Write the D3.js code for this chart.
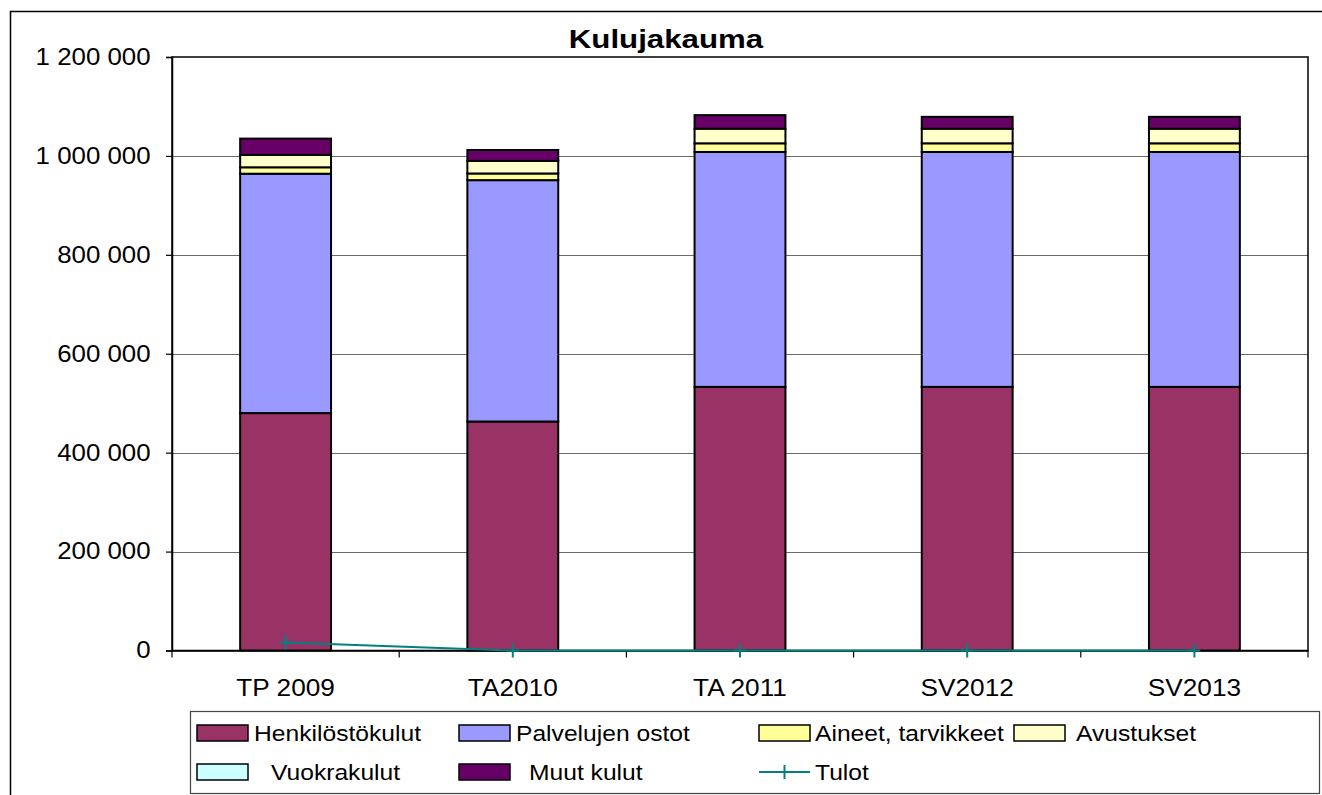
<!DOCTYPE html>
<html>
<head>
<meta charset="utf-8">
<script src="https://cdn.jsdelivr.net/npm/d3@7"></script>
<style>
  html, body { margin: 0; padding: 0; background: #fff; }
  svg { display: block; font-family: "Liberation Sans", Arial, sans-serif; }
</style>
</head>
<body>
<svg id="chart" width="1322" height="795"></svg>
<script>
// ---- data ----
const categories = ["TP 2009", "TA2010", "TA 2011", "SV2012", "SV2013"];
const henkilostokulut = [480000, 463000, 533000, 533000, 533000];
const palvelujenOstot = [484000, 488000, 475000, 475000, 475000];
const aineetTarvikkeet = [13000, 13500, 17500, 17500, 17500];
const avustukset = [25000, 25500, 29500, 29500, 29500];
const vuokrakulut = [0, 0, 0, 0, 0];
const muutKulut = [33000, 22000, 27500, 24000, 24000];
const tulot = [16000, 0, 0, 0, 0];
const yTicks = [0, 200000, 400000, 600000, 800000, 1000000, 1200000];
const seriesNames = ["Henkilöstökulut", "Palvelujen ostot", "Aineet, tarvikkeet", "Avustukset", "Vuokrakulut", "Muut kulut"];
const seriesValues = [henkilostokulut, palvelujenOstot, aineetTarvikkeet, avustukset, vuokrakulut, muutKulut];
const lineName = "Tulot";
const titleText = "Kulujakauma";

// ---- styles ----
const colors = ["#993366", "#9999FF", "#FFFF99", "#FFFFCC", "#CCFFFF", "#660066"];
const lineColor = "#008080";

const svg = d3.select("#chart");
const plotLeft = 172, plotRight = 1308, plotTop = 57, plotBottom = 650.5;

// table for stack
const table = categories.map((c, i) => {
  const row = { cat: c };
  seriesNames.forEach((s, j) => row[s] = seriesValues[j][i]);
  return row;
});
const stacked = d3.stack().keys(seriesNames)(table);

const x = d3.scaleBand().domain(categories).range([plotLeft, plotRight]).paddingInner(0.6).paddingOuter(0.3);
const y = d3.scaleLinear().domain([0, 1200000]).range([plotBottom, plotTop]);

// outer chart border
svg.append("rect").attr("x", 10.5).attr("y", 11.5).attr("width", 1400).attr("height", 900)
  .attr("fill", "none").attr("stroke", "#000").attr("stroke-width", 1.5);

// gridlines
svg.append("g").selectAll("line").data(yTicks.filter(t => t > 0 && t < 1200000)).join("line")
  .attr("x1", plotLeft).attr("x2", plotRight)
  .attr("y1", d => Math.round(y(d)) + 0.5).attr("y2", d => Math.round(y(d)) + 0.5)
  .attr("stroke", "#6b6b6b").attr("stroke-width", 1);

// plot area frame
svg.append("rect").attr("x", plotLeft).attr("y", plotTop).attr("width", plotRight - plotLeft).attr("height", plotBottom - plotTop)
  .attr("fill", "none").attr("stroke", "#000").attr("stroke-width", 1.5);

// bars
const gBars = svg.append("g");
stacked.forEach((layer, j) => {
  gBars.append("g").selectAll("rect").data(layer).join("rect")
    .attr("x", d => x(d.data.cat))
    .attr("width", x.bandwidth())
    .attr("y", d => y(d[1]))
    .attr("height", d => y(d[0]) - y(d[1]))
    .attr("fill", colors[j])
    .attr("stroke", "#000").attr("stroke-width", 2);
});

// y axis
const fmt = d3.formatLocale({ decimal: ",", thousands: "\u00a0", grouping: [3], currency: ["", "€"] }).format(",d");
const yAxis = svg.append("g").attr("transform", `translate(${plotLeft},0)`)
  .call(d3.axisLeft(y).tickValues(yTicks).tickFormat(d => fmt(d).replace(/\u00a0/g, " ")).tickSize(6).tickPadding(13));
yAxis.select(".domain").attr("stroke", "#000").attr("stroke-width", 1.5);
yAxis.selectAll(".tick line").attr("stroke", "#000").attr("stroke-width", 1.2);
yAxis.selectAll(".tick text")
  .attr("font-size", 23).attr("fill", "#000")
  .attr("font-family", "'Liberation Sans', Arial, sans-serif")
  .attr("transform", "scale(1.125,1)");

// x axis (labels)
const xAxis = svg.append("g").attr("transform", `translate(0,${plotBottom})`)
  .call(d3.axisBottom(x).tickSize(0).tickPadding(29));
xAxis.select(".domain").attr("stroke", "#000").attr("stroke-width", 1.5);
xAxis.selectAll(".tick text")
  .attr("font-size", 23).attr("fill", "#000")
  .attr("font-family", "'Liberation Sans', Arial, sans-serif")
  .attr("transform", "scale(1.14,1)");
// x tick marks at category boundaries
svg.append("g").selectAll("line").data(d3.range(categories.length + 1)).join("line")
  .attr("x1", i => plotLeft + i * x.step()).attr("x2", i => plotLeft + i * x.step())
  .attr("y1", plotBottom).attr("y2", plotBottom + 7)
  .attr("stroke", "#000").attr("stroke-width", 1.2);

// Tulot line
const cxOf = i => x(categories[i]) + x.bandwidth() / 2;
const lineGen = d3.line().x((d, i) => cxOf(i)).y(d => y(d));
svg.append("path").datum(tulot).attr("d", lineGen)
  .attr("fill", "none").attr("stroke", lineColor).attr("stroke-width", 2);
const markers = svg.append("g").selectAll("g").data(tulot).join("g")
  .attr("transform", (d, i) => `translate(${cxOf(i)},${y(d)})`);
markers.append("line").attr("x1", 0).attr("x2", 0).attr("y1", -7).attr("y2", 7)
  .attr("stroke", lineColor).attr("stroke-width", 2);
markers.append("line").attr("x1", -6).attr("x2", 6).attr("y1", 0).attr("y2", 0)
  .attr("stroke", lineColor).attr("stroke-width", 2);

// title
svg.append("text").attr("transform", `translate(666,48) scale(1.25,1)`)
  .attr("text-anchor", "middle").attr("font-size", 25).attr("font-weight", "bold")
  .attr("font-family", "'Liberation Sans', Arial, sans-serif")
  .text(titleText);

// legend
const legend = svg.append("g");
legend.append("rect").attr("x", 190.5).attr("y", 711.5).attr("width", 1129).attr("height", 82)
  .attr("fill", "#fff").attr("stroke", "#444").attr("stroke-width", 1.2);
const legendItems = [
  { name: seriesNames[0], type: "rect", color: colors[0], sx: 197, tx: 254, row: 0 },
  { name: seriesNames[1], type: "rect", color: colors[1], sx: 459, tx: 516, row: 0 },
  { name: seriesNames[2], type: "rect", color: colors[2], sx: 759, tx: 815, row: 0 },
  { name: seriesNames[3], type: "rect", color: colors[3], sx: 1014, tx: 1076, row: 0 },
  { name: seriesNames[4], type: "rect", color: colors[4], sx: 197, tx: 271, row: 1 },
  { name: seriesNames[5], type: "rect", color: colors[5], sx: 459, tx: 529, row: 1 },
  { name: lineName, type: "line", color: lineColor, sx: 759, tx: 815, row: 1 }
];
const rowY = [733, 772];
legendItems.forEach(it => {
  const cy = rowY[it.row];
  if (it.type === "rect") {
    legend.append("rect").attr("x", it.sx).attr("y", cy - 8).attr("width", 51).attr("height", 16)
      .attr("fill", it.color).attr("stroke", "#000").attr("stroke-width", 1.5);
  } else {
    legend.append("line").attr("x1", it.sx).attr("x2", it.sx + 51).attr("y1", cy).attr("y2", cy)
      .attr("stroke", it.color).attr("stroke-width", 2);
    legend.append("line").attr("x1", it.sx + 25.5).attr("x2", it.sx + 25.5).attr("y1", cy - 7).attr("y2", cy + 7)
      .attr("stroke", it.color).attr("stroke-width", 2);
  }
  legend.append("text").attr("transform", `translate(${it.tx},${cy + 8}) scale(1.12,1)`)
    .attr("font-size", 22).attr("fill", "#000")
    .attr("font-family", "'Liberation Sans', Arial, sans-serif")
    .text(it.name);
});
</script>
</body>
</html>
